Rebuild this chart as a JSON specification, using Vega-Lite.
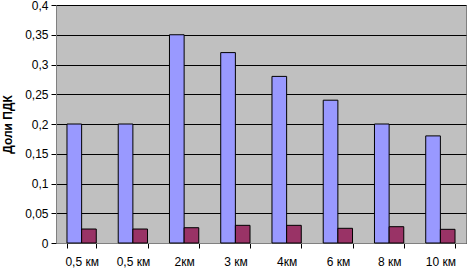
{
  "$schema": "https://vega.github.io/schema/vega-lite/v6.json",
  "width": 410,
  "height": 238,
  "autosize": {"type": "none"},
  "padding": {"left": 56, "top": 5, "right": 5, "bottom": 26},
  "background": "white",
  "config": {
    "font": "Liberation Sans",
    "view": {"fill": "#C0C0C0", "stroke": "#808080", "strokeWidth": 1}
  },
  "data": {
    "values": [
      {"idx": 0, "label": "0,5 км", "series": "A", "value": 0.2},
      {"idx": 0, "label": "0,5 км", "series": "B", "value": 0.0235},
      {"idx": 1, "label": "0,5 км", "series": "A", "value": 0.2},
      {"idx": 1, "label": "0,5 км", "series": "B", "value": 0.0235},
      {"idx": 2, "label": "2км", "series": "A", "value": 0.35},
      {"idx": 2, "label": "2км", "series": "B", "value": 0.0257},
      {"idx": 3, "label": "3 км", "series": "A", "value": 0.32},
      {"idx": 3, "label": "3 км", "series": "B", "value": 0.0297},
      {"idx": 4, "label": "4км", "series": "A", "value": 0.28},
      {"idx": 4, "label": "4км", "series": "B", "value": 0.0297},
      {"idx": 5, "label": "6 км", "series": "A", "value": 0.24},
      {"idx": 5, "label": "6 км", "series": "B", "value": 0.0247},
      {"idx": 6, "label": "8 км", "series": "A", "value": 0.2},
      {"idx": 6, "label": "8 км", "series": "B", "value": 0.0274},
      {"idx": 7, "label": "10 км", "series": "A", "value": 0.18},
      {"idx": 7, "label": "10 км", "series": "B", "value": 0.023}
    ]
  },
  "mark": {"type": "bar", "stroke": "black", "strokeWidth": 1},
  "encoding": {
    "x": {
      "field": "idx",
      "type": "ordinal",
      "scale": {"paddingInner": 0.4286, "paddingOuter": 0.2143},
      "axis": {
        "title": null,
        "labelAngle": 0,
        "labelExpr": "['0,5 км','0,5 км','2км','3 км','4км','6 км','8 км','10 км'][datum.value]",
        "labelFontSize": 12,
        "labelColor": "black",
        "labelPadding": 8,
        "tickBand": "extent",
        "tickSize": 5,
        "tickColor": "black",
        "domainColor": "#808080",
        "grid": false
      }
    },
    "xOffset": {"field": "series", "type": "nominal", "scale": {"paddingInner": 0, "paddingOuter": 0}},
    "y": {
      "field": "value",
      "type": "quantitative",
      "scale": {"domain": [0, 0.4]},
      "axis": {
        "title": "Доли ПДК",
        "titleFontSize": 12,
        "titleFontWeight": "bold",
        "titleColor": "black",
        "titlePadding": 10,
        "values": [0, 0.05, 0.1, 0.15, 0.2, 0.25, 0.3, 0.35, 0.4],
        "labelExpr": "replace(format(datum.value, '.2~f'), '.', ',')",
        "labelFontSize": 12,
        "labelColor": "black",
        "labelPadding": 3,
        "tickSize": 5,
        "tickColor": "black",
        "domainColor": "#808080",
        "gridColor": "black",
        "gridOpacity": 1,
        "gridWidth": 1
      }
    },
    "color": {
      "field": "series",
      "type": "nominal",
      "scale": {"domain": ["A", "B"], "range": ["#9999FF", "#993366"]},
      "legend": null
    }
  }
}
